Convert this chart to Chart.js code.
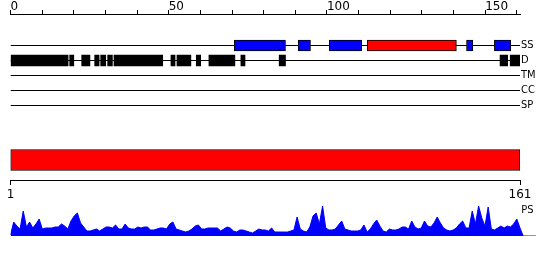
<!DOCTYPE html>
<html>
<head>
<meta charset="utf-8">
<script src="https://cdn.jsdelivr.net/npm/chart.js"></script>
<style>
  body { margin:0; background:#fff; }
  .wrap { position:relative; width:550px; height:260px; background:#fff; }
  .wrap canvas { position:absolute; left:0; }
</style>
</head>
<body>
<div class="wrap">
  <canvas id="tracks" width="550" height="115" style="top:0px"></canvas>
  <canvas id="domain" width="550" height="60" style="top:140px"></canvas>
  <canvas id="ps" width="550" height="40" style="top:200px"></canvas>
</div>
<script>
  var seqLength = 161;
  var trackNames = ["SS", "D", "TM", "CC", "SP"];

  // secondary structure boxes (H = red, E = blue)
  var ssStart = [70.7, 90.9, 100.7, 112.7, 144.1, 152.9];
  var ssEnd   = [86.9, 94.8, 111.0, 140.9, 146.1, 158.1];
  var ssKind  = ["E", "E", "E", "H", "E", "E"];

  // disorder boxes
  var disStart = [0, 18.7, 22.5, 26.6, 28.5, 30.7, 32.7, 50.7, 52.6, 58.7, 62.7, 72.8, 84.9, 154.7, 157.9];
  var disEnd   = [18.2, 20.0, 25.1, 28.0, 30.1, 32.2, 48.1, 52.0, 57.0, 60.1, 70.9, 74.1, 86.9, 157.1, 161];

  var domainRange = [1, 161];

  // PS profile, residue 1..161 (plus flat tail)
  var psValues = [
    1, 14, 10, 7, 25, 9, 14, 8, 12, 17,
    7, 8, 8, 8, 9, 9, 12, 10, 7, 15,
    20, 23, 13, 9, 5, 5, 6, 7, 5, 7,
    9, 9, 8, 11, 7, 7, 12, 8, 7, 7,
    9, 8, 9, 9, 6, 6, 7, 8, 8, 7,
    12, 14, 7, 6, 5, 4, 5, 7, 10, 11,
    7, 7, 8, 8, 8, 8, 5, 7, 9, 8,
    5, 4, 6, 6, 5, 4, 3, 5, 7, 6,
    6, 5, 8, 4, 4, 4, 4, 4, 5, 6,
    19, 7, 5, 4, 9, 20, 23, 12, 30, 8,
    6, 6, 7, 11, 15, 7, 6, 5, 5, 5,
    6, 11, 4, 7, 12, 16, 10, 5, 4, 7,
    6, 6, 7, 9, 9, 7, 15, 9, 7, 8,
    15, 10, 9, 13, 19, 13, 8, 6, 5, 6,
    8, 12, 15, 8, 8, 25, 12, 30, 18, 10,
    29, 7, 6, 8, 10, 8, 10, 9, 12, 17,
    8, 0, 0, 0, 0, 0
  ];

  var ssColors = { H: "#ff0000", E: "#0000ff" };
  var numFont = { family: "DejaVu Sans", size: 12 };
  var nameFont = { family: "'DejaVu Sans Condensed', 'DejaVu Sans'", size: 11 };

  Chart.defaults.font.family = "DejaVu Sans";
  Chart.defaults.color = "#000";

  // pixel frame shared by the residue rulers
  var plotLeft = 10.5, plotRight = 520;
  var pxPerRes = (plotRight - plotLeft) / (seqLength - 1);

  function boxes(starts, ends, row) {
    var ret = [];
    for (var i = 0; i < starts.length; i++) ret.push({ x: [starts[i], ends[i]], y: row });
    return ret;
  }
  // keep the chart area exactly where the layout padding puts it
  function fixedSize(w, h) {
    return function (a) {
      if (w != undefined) a.width = w;
      if (h != undefined) a.height = h;
      a.paddingTop = 0; a.paddingBottom = 0;
      a.paddingLeft = 0; a.paddingRight = 0;
    };
  }

  // --- tracks with top ruler ---
  var trackSets = [];
  for (var k = 0; k < trackNames.length; k++) {
    trackSets.push({
      type: "line", indexAxis: "x",
      data: [{ x: 0, y: k }, { x: seqLength, y: k }],
      borderColor: "#000", borderWidth: 1, pointRadius: 0, order: 2
    });
  }
  trackSets.push({
    label: "SS", data: boxes(ssStart, ssEnd, 0),
    backgroundColor: ssKind.map(function (k) { return ssColors[k]; }),
    borderColor: "#000", borderWidth: 1, borderSkipped: false,
    barThickness: 11, grouped: false, order: 1
  });
  trackSets.push({
    label: "D", data: boxes(disStart, disEnd, 1),
    backgroundColor: "#000", borderWidth: 0,
    barThickness: 11, grouped: false, order: 1
  });

  new Chart(document.getElementById("tracks"), {
    type: "bar",
    data: { datasets: trackSets },
    options: {
      indexAxis: "y",
      responsive: false, animation: false,
      layout: { padding: { left: plotLeft, right: 0, top: 0, bottom: 5 } },
      plugins: { legend: { display: false }, tooltip: { enabled: false } },
      scales: {
        x: {
          type: "linear", position: "top", min: 0, max: seqLength, offset: false,
          ticks: {
            stepSize: 10, includeBounds: false, align: "start", padding: -3.6,
            maxRotation: 0, autoSkip: false, color: "#000", font: numFont,
            callback: function (v) { return v % 50 === 0 ? v : ""; }
          },
          grid: { drawOnChartArea: false, color: "#000", tickLength: 4, offset: false },
          border: { color: "#000" },
          afterFit: fixedSize(undefined, 14)
        },
        y: {
          type: "linear", position: "right", reverse: true, offset: false,
          min: -31.5 / 15, max: 64.5 / 15,
          afterBuildTicks: function (a) {
            a.ticks = trackNames.map(function (n, i) { return { value: i }; });
          },
          ticks: {
            padding: 1, color: "#000", font: nameFont,
            callback: function (v) { return trackNames[v]; }
          },
          grid: { display: false, drawTicks: false, offset: false },
          border: { display: false },
          afterFit: fixedSize(550 - plotRight, undefined)
        }
      }
    }
  });

  // --- domain bar with residue ruler ---
  new Chart(document.getElementById("domain"), {
    type: "bar",
    data: {
      labels: ["domain"],
      datasets: [{
        data: [domainRange], backgroundColor: "#ff0000",
        borderColor: "#000", borderWidth: 1, borderSkipped: false, barThickness: 21
      }]
    },
    options: {
      indexAxis: "y",
      responsive: false, animation: false,
      layout: { padding: { left: plotLeft, right: 550 - plotRight, top: 0, bottom: 0 } },
      plugins: { legend: { display: false }, tooltip: { enabled: false } },
      scales: {
        x: {
          type: "linear", min: 1, max: seqLength,
          afterBuildTicks: function (a) { a.ticks = [{ value: 1 }, { value: seqLength }]; },
          ticks: { padding: 2.8, maxRotation: 0, autoSkip: false, color: "#000", font: numFont },
          grid: { drawOnChartArea: false, color: "#000", tickLength: 5 },
          border: { color: "#000" },
          afterFit: fixedSize(undefined, 20)
        },
        y: { display: false }
      }
    }
  });

  // --- PS profile (its frame runs past the last residue to hold the flat tail) ---
  var psPoints = psValues.map(function (v, i) { return { x: i + 1, y: v }; });
  var psRight = plotLeft + (psValues.length - 1) * pxPerRes;
  new Chart(document.getElementById("ps"), {
    type: "line",
    data: {
      datasets: [{
        data: psPoints, borderColor: "#0000ff", backgroundColor: "#0000ff",
        borderWidth: 1, fill: "origin", pointRadius: 0, tension: 0
      }]
    },
    options: {
      responsive: false, animation: false,
      layout: { padding: { left: plotLeft, right: 0, top: 0, bottom: 4 } },
      plugins: { legend: { display: false }, tooltip: { enabled: false } },
      scales: {
        x: { type: "linear", min: 1, max: psValues.length, display: false },
        y: {
          position: "right", min: 0, max: 36,
          afterBuildTicks: function (a) { a.ticks = [{ value: 26 }]; },
          ticks: {
            mirror: true, padding: -2.5, color: "#000", font: nameFont,
            callback: function () { return "PS"; }
          },
          grid: { display: false, drawTicks: false },
          border: { display: false },
          afterFit: fixedSize(550 - psRight, undefined)
        }
      }
    }
  });
</script>
</body>
</html>
